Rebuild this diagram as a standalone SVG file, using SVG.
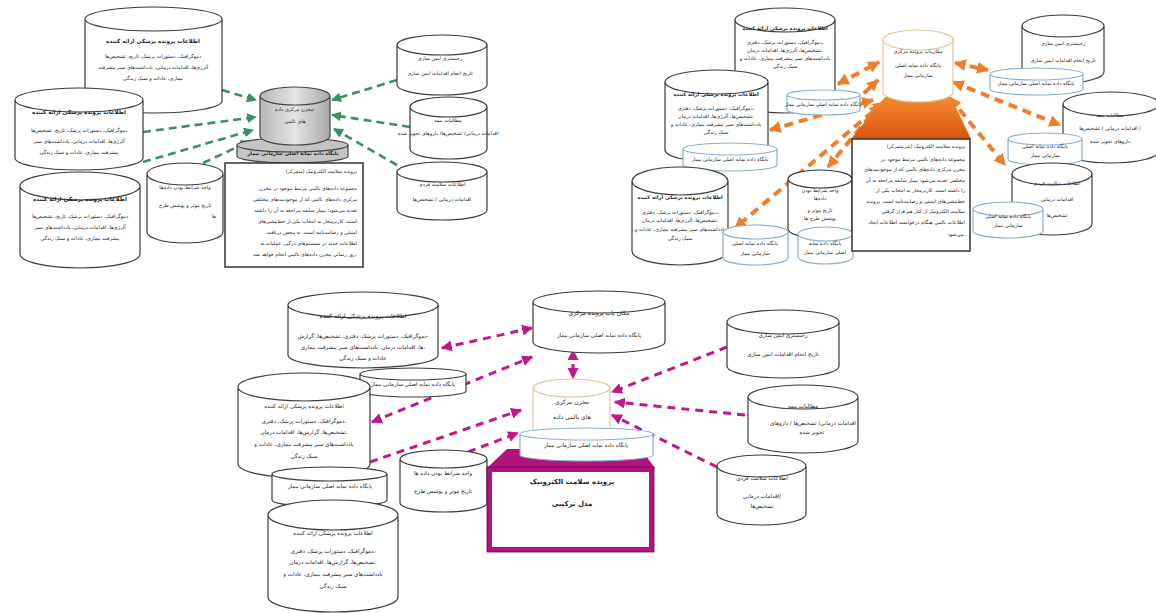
<svg xmlns="http://www.w3.org/2000/svg" width="1156" height="613" viewBox="0 0 1156 613">
<style>
.c{fill:#fff;stroke:#3a3a3a;stroke-width:1.2}
.cb{fill:#fff;stroke:#8aaed0;stroke-width:1.2}
.co{fill:#fff;stroke:#e6c49a;stroke-width:1.2}
.t{font-family:"DejaVu Sans","Noto Sans",sans-serif;fill:#222;text-anchor:middle;font-size:5.5px}
.s5{font-size:5px}
.s6{font-size:6px}
.s7{font-size:7px}
.e{text-anchor:end}
.b{font-weight:bold}
.g{fill:none;stroke:#3b9063;stroke-width:2.6;stroke-dasharray:8 5}
.o{fill:none;stroke:#f07d28;stroke-width:4;stroke-dasharray:9 6}
.m{fill:none;stroke:#c4168a;stroke-width:3;stroke-dasharray:8 6}
</style>
<defs>
<linearGradient id="gr" x1="0" x2="1" y1="0" y2="0"><stop offset="0" stop-color="#b8b8b8"/><stop offset="0.5" stop-color="#e4e4e4"/><stop offset="1" stop-color="#a8a8a8"/></linearGradient>
<linearGradient id="og" x1="0" x2="0" y1="0" y2="1"><stop offset="0" stop-color="#f58a30"/><stop offset="1" stop-color="#d8560e"/></linearGradient>
<marker id="ag" viewBox="0 0 10 10" refX="9" refY="5" markerWidth="10" markerHeight="10" markerUnits="userSpaceOnUse" orient="auto-start-reverse"><path d="M0,0L10,5L0,10z" fill="#3b9063"/></marker>
<marker id="ao" viewBox="0 0 10 10" refX="9" refY="5" markerWidth="12" markerHeight="12" markerUnits="userSpaceOnUse" orient="auto-start-reverse"><path d="M0,0L10,5L0,10z" fill="#f07d28"/></marker>
<marker id="am" viewBox="0 0 10 10" refX="9" refY="5" markerWidth="11" markerHeight="11" markerUnits="userSpaceOnUse" orient="auto-start-reverse"><path d="M0,0L10,5L0,10z" fill="#c4168a"/></marker>
</defs>
<rect width="1156" height="613" fill="#fff"/>

<g id="connectors">
<line class="g" x1="222" y1="90" x2="256" y2="100" marker-end="url(#ag)"/>
<line class="g" x1="143" y1="132" x2="256" y2="117" marker-end="url(#ag)"/>
<line class="g" x1="143" y1="162" x2="253" y2="130" marker-end="url(#ag)"/>
<line class="g" x1="203" y1="163" x2="250" y2="141" marker-end="url(#ag)"/>
<line class="g" x1="397" y1="80" x2="332" y2="100" marker-end="url(#ag)"/>
<line class="g" x1="410" y1="127" x2="332" y2="115" marker-end="url(#ag)"/>
<line class="g" x1="397" y1="165" x2="334" y2="129" marker-end="url(#ag)"/>

<line class="o" x1="838" y1="84" x2="879" y2="62" marker-start="url(#ao)" marker-end="url(#ao)"/>
<line class="o" x1="842" y1="114" x2="878" y2="80" marker-start="url(#ao)" marker-end="url(#ao)"/>
<line class="o" x1="770" y1="130" x2="873" y2="100" marker-start="url(#ao)" marker-end="url(#ao)"/>
<line class="o" x1="880" y1="104" x2="828" y2="167" marker-start="url(#ao)" marker-end="url(#ao)"/>
<line class="o" x1="884" y1="102" x2="735" y2="228" marker-start="url(#ao)" marker-end="url(#ao)"/>
<line class="o" x1="955" y1="63" x2="988" y2="70" marker-start="url(#ao)" marker-end="url(#ao)"/>
<line class="o" x1="953" y1="82" x2="1060" y2="125" marker-start="url(#ao)" marker-end="url(#ao)"/>
<line class="o" x1="950" y1="98" x2="1005" y2="165" marker-start="url(#ao)" marker-end="url(#ao)"/>

<line class="m" x1="442" y1="348" x2="532" y2="328" marker-start="url(#am)" marker-end="url(#am)"/>
<line class="m" x1="372" y1="422" x2="532" y2="357" marker-start="url(#am)" marker-end="url(#am)"/>
<line class="m" x1="370" y1="462" x2="521" y2="410" marker-end="url(#am)"/>
<line class="m" x1="468" y1="452" x2="518" y2="433" marker-end="url(#am)"/>
<line class="m" x1="573" y1="350" x2="573" y2="378" marker-start="url(#am)" marker-end="url(#am)"/>
<line class="m" x1="727" y1="347" x2="612" y2="392" marker-end="url(#am)"/>
<line class="m" x1="745" y1="415" x2="615" y2="402" marker-end="url(#am)"/>
<line class="m" x1="717" y1="467" x2="612" y2="415" marker-end="url(#am)"/>
</g>

<!-- TOP LEFT -->
<g id="tl-a">
<path class="c" d="M85,19a68.5,12 0 0 1 137,0v82a68.5,12 0 0 1 -137,0zm137,0a68.5,12 0 0 1 -137,0"/>
<text class="t b" x="153" y="43">اطلاعات پرونده پزشکی ارائه کننده</text>
<text class="t s5" x="153" y="58">دموگرافیک، دستورات پزشک، تاریخ، تشخیص‌ها</text>
<text class="t s5" x="153" y="69">آلرژی‌ها، اقدامات درمانی، یادداشت‌های سیر پیشرفت</text>
<text class="t s5" x="153" y="80">بیماری، عادات و سبک زندگی</text>
</g>
<g id="tl-b">
<path class="c" d="M15,100a64,12 0 0 1 128,0v58a64,12 0 0 1 -128,0zm128,0a64,12 0 0 1 -128,0"/>
<text class="t b" x="79" y="114">اطلاعات پرونده پزشکی ارائه کننده</text>
<text class="t s5" x="79" y="132">دموگرافیک، دستورات پزشک، تاریخ، تشخیص‌ها</text>
<text class="t s5" x="79" y="143">آلرژی‌ها، اقدامات درمانی، یادداشت‌های سیر</text>
<text class="t s5" x="79" y="154">پیشرفت بیماری، عادات و سبک زندگی</text>
</g>
<g id="tl-c">
<path class="c" d="M20,186a60,14 0 0 1 120,0v68a60,14 0 0 1 -120,0zm120,0a60,14 0 0 1 -120,0"/>
<text class="t b" x="80" y="201">اطلاعات پرونده پزشکی ارائه کننده</text>
<text class="t s5" x="80" y="218">دموگرافیک، دستورات پزشک، تاریخ، تشخیص‌ها</text>
<text class="t s5" x="80" y="229">آلرژی‌ها، اقدامات درمانی، یادداشت‌های سیر</text>
<text class="t s5" x="80" y="240">پیشرفت بیماری، عادات و سبک زندگی</text>
</g>
<g id="tl-d">
<path class="c" d="M147,174a38,11 0 0 1 76,0v58a38,11 0 0 1 -76,0zm76,0a38,11 0 0 1 -76,0"/>
<text class="t s5" x="185" y="189">واجد شرایط بودن داده‌ها</text>
<text class="t s5" x="185" y="207">تاریخ موثر و پوشش طرح</text>
<text class="t s5 e" x="216" y="218">ها</text>
</g>
<g id="tl-center">
<path d="M237,145a55.5,7 0 0 1 111,0v11a55.5,7 0 0 1 -111,0zm111,0a55.5,7 0 0 1 -111,0" fill="#c4c4c4" stroke="#444" stroke-width="1.2"/>
<text class="t s5 b" x="293" y="155">پایگاه داده نمایه اصلی سازمانی بیمار</text>
<path d="M260,96a35,9 0 0 1 70,0v40a35,9 0 0 1 -70,0zm70,0a35,9 0 0 1 -70,0" fill="url(#gr)" stroke="#444" stroke-width="1.2"/>
<text class="t s5" x="295" y="111">مخزن مرکزی داده-</text>
<text class="t s5" x="295" y="123">های بالینی</text>
</g>
<g id="tl-box">
<rect x="225" y="163" width="138" height="104" fill="#fff" stroke="#333" stroke-width="1.5"/>
<text class="t s5 e" x="357" y="173">پرونده سلامت الکترونیک (متمرکز)</text>
<text class="t s5 e" x="357" y="190">مجموعه داده‌های بالینی مرتبط موجود در مخزن</text>
<text class="t s5 e" x="357" y="201">مرکزی داده‌های بالینی که از موجودیت‌های مختلفی</text>
<text class="t s5 e" x="357" y="212">تغذیه می‌شود؛ بیمار سابقه مراجعه به آن را داشته</text>
<text class="t s5 e" x="357" y="223">است. کاربرمجاز به انتخاب یکی از خط‌مشی‌های</text>
<text class="t s5 e" x="357" y="234">امنیتی و رضایت‌نامه است. به محض دریافت</text>
<text class="t s5 e" x="357" y="245">اطلاعات جدید در سیستم‌های درگیر، عملیات به</text>
<text class="t s5 e" x="357" y="256">روز رسانی مخزن داده‌های بالینی انجام خواهد شد.</text>
</g>
<g id="tl-e">
<path class="c" d="M397,45a45,10 0 0 1 90,0v40a45,10 0 0 1 -90,0zm90,0a45,10 0 0 1 -90,0"/>
<text class="t s5" x="440" y="60">رجیستری ایمن سازی</text>
<text class="t s5" x="440" y="75">تاریخ انجام اقدامات ایمن سازی</text>
</g>
<g id="tl-f">
<path class="c" d="M410,107a38.5,10 0 0 1 77,0v42a38.5,10 0 0 1 -77,0zm77,0a38.5,10 0 0 1 -77,0"/>
<text class="t s5" x="448" y="122">مطالبات بیمه</text>
<text class="t s5" x="448" y="135">اقدامات درمانی/ تشخیص‌ها/ داروهای تجویز شده</text>
</g>
<g id="tl-g">
<path class="c" d="M397,172a45,10 0 0 1 90,0v38a45,10 0 0 1 -90,0zm90,0a45,10 0 0 1 -90,0"/>
<text class="t s5" x="442" y="186">اطلاعات سلامت فردی</text>
<text class="t s5" x="442" y="201">اقدامات درمانی / تشخیص‌ها</text>
</g>

<!-- TOP RIGHT -->
<g id="tr-a">
<path class="c" d="M735,20a50,12 0 0 1 100,0v81a50,12 0 0 1 -100,0zm100,0a50,12 0 0 1 -100,0"/>
<text class="t s5 b" x="785" y="30">اطلاعات پرونده پزشکی ارائه کننده</text>
<text class="t s5" x="785" y="44">دموگرافیک، دستورات پزشک، دفتری،</text>
<text class="t s5" x="785" y="52">تشخیص‌ها، آلرژی‌ها، اقدامات درمان،</text>
<text class="t s5" x="785" y="60">یادداشت‌های سیر پیشرفت بیماری، عادات و</text>
<text class="t s5" x="785" y="68">سبک زندگی</text>
</g>
<g id="tr-a-db">
<path class="cb" d="M787,95a36.5,5 0 0 1 73,0v15a36.5,5 0 0 1 -73,0zm73,0a36.5,5 0 0 1 -73,0"/>
<text class="t s5" x="823" y="106">پایگاه داده نمایه اصلی سازمانی بیمار</text>
</g>
<g id="tr-b">
<path class="c" d="M665,82a51.5,12 0 0 1 103,0v68a51.5,12 0 0 1 -103,0zm103,0a51.5,12 0 0 1 -103,0"/>
<text class="t s5 b" x="716" y="96">اطلاعات پرونده پزشکی ارائه کننده</text>
<text class="t s5" x="716" y="110">دموگرافیک، دستورات پزشک، دفتری،</text>
<text class="t s5" x="716" y="118">تشخیص‌ها، آلرژی‌ها، اقدامات درمان،</text>
<text class="t s5" x="716" y="126">یادداشت‌های سیر پیشرفت بیماری، عادات و</text>
<text class="t s5" x="716" y="134">سبک زندگی</text>
</g>
<g id="tr-b-db">
<path class="cb" d="M683,149a47,6 0 0 1 94,0v16a47,6 0 0 1 -94,0zm94,0a47,6 0 0 1 -94,0"/>
<text class="t s5" x="730" y="161">پایگاه داده نمایه اصلی سازمانی بیمار</text>
</g>
<g id="tr-c">
<path class="c" d="M632,181a48,14 0 0 1 96,0v70a48,14 0 0 1 -96,0zm96,0a48,14 0 0 1 -96,0"/>
<text class="t s5 b" x="680" y="199">اطلاعات پرونده پزشکی ارائه کننده</text>
<text class="t s5" x="680" y="214">دموگرافیک، دستورات پزشک، دفتری،</text>
<text class="t s5" x="680" y="222">تشخیص‌ها، آلرژی‌ها، اقدامات درمان،</text>
<text class="t s5" x="680" y="231">یادداشت‌های سیر پیشرفت بیماری، عادات و</text>
<text class="t s5" x="680" y="240">سبک زندگی</text>
</g>
<g id="tr-d">
<path class="c" d="M788,179a32,9 0 0 1 64,0v50a32,9 0 0 1 -64,0zm64,0a32,9 0 0 1 -64,0"/>
<text class="t s5" x="820" y="192">واجد شرایط بودن</text>
<text class="t s5" x="820" y="200">داده‌ها</text>
<text class="t s5" x="820" y="212">تاریخ موثر و</text>
<text class="t s5" x="820" y="220">پوشش طرح ها</text>
</g>
<g id="tr-c-db">
<path class="cb" d="M723,232a32.5,7 0 0 1 65,0v26a32.5,7 0 0 1 -65,0zm65,0a32.5,7 0 0 1 -65,0"/>
<text class="t s5" x="755" y="245">پایگاه داده نمایه اصلی</text>
<text class="t s5" x="755" y="255">سازمانی بیمار</text>
</g>
<g id="tr-d-db">
<path class="cb" d="M798,234a27.5,7 0 0 1 55,0v23a27.5,7 0 0 1 -55,0zm55,0a27.5,7 0 0 1 -55,0"/>
<text class="t s5" x="825" y="245">پایگاه داده نمایه</text>
<text class="t s5" x="825" y="254">اصلی سازمانی بیمار</text>
</g>
<g id="tr-center">
<polygon points="885,97 951,97 971,139 851,139" fill="url(#og)"/>
<path class="co" d="M883,40a35,10 0 0 1 70,0v52a35,10 0 0 1 -70,0zm70,0a35,10 0 0 1 -70,0"/>
<text class="t s5" x="918" y="53">مکان‌یاب پرونده مرکزی</text>
<text class="t s5" x="918" y="67">پایگاه داده نمایه اصلی</text>
<text class="t s5" x="918" y="77">سازمانی بیمار</text>
</g>
<g id="tr-box">
<rect x="852" y="139" width="118" height="112" fill="#fff" stroke="#333" stroke-width="1.5"/>
<text class="t s5 e" x="965" y="148">پرونده سلامت الکترونیک (غیرمتمرکز)</text>
<text class="t s5 e" x="965" y="161">مجموعه داده‌های بالینی مرتبط موجود در</text>
<text class="t s5 e" x="965" y="171">مخزن مرکزی داده‌های بالینی که از موجودیت‌های</text>
<text class="t s5 e" x="965" y="182">مختلفی تغذیه می‌شود بیمار سابقه مراجعه به آن</text>
<text class="t s5 e" x="965" y="192">را داشته است. کاربرمجاز به انتخاب یکی از</text>
<text class="t s5 e" x="965" y="203">خط‌مشی‌های امنیتی و رضایت‌نامه است. پرونده</text>
<text class="t s5 e" x="965" y="213">سلامت الکترونیک از کنار هم قرار گرفتن</text>
<text class="t s5 e" x="965" y="224">اطلاعات بالینی هنگام درخواست اطلاعات ایجاد</text>
<text class="t s5 e" x="965" y="236">می‌شود.</text>
</g>
<g id="tr-r1">
<path class="c" d="M1022,26a41,11 0 0 1 82,0v46a41,11 0 0 1 -82,0zm82,0a41,11 0 0 1 -82,0"/>
<text class="t s5" x="1063" y="45">رجیستری ایمن سازی</text>
<text class="t s5" x="1063" y="62">تاریخ انجام اقدامات ایمن سازی</text>
</g>
<g id="tr-r1-db">
<path class="cb" d="M990,74a46.5,6 0 0 1 93,0v15a46.5,6 0 0 1 -93,0zm93,0a46.5,6 0 0 1 -93,0"/>
<text class="t s5" x="1036" y="85">پایگاه داده نمایه اصلی سازمانی بیمار</text>
</g>
<g id="tr-r2">
<path class="c" d="M1063,104a48,12 0 0 1 96,0v47a48,12 0 0 1 -96,0zm96,0a48,12 0 0 1 -96,0"/>
<text class="t s5" x="1110" y="117">مطالبات بیمه</text>
<text class="t s5" x="1110" y="130">اقدامات درمانی / تشخیص‌ها /</text>
<text class="t s5" x="1110" y="143">داروهای تجویز شده</text>
</g>
<g id="tr-r2-db">
<path class="cb" d="M1008,139a37,6 0 0 1 74,0v20a37,6 0 0 1 -74,0zm74,0a37,6 0 0 1 -74,0"/>
<text class="t s5" x="1045" y="148">پایگاه داده نمایه اصلی</text>
<text class="t s5" x="1045" y="157">سازمانی بیمار</text>
</g>
<g id="tr-r3">
<path class="c" d="M1012,174a40,11 0 0 1 80,0v50a40,11 0 0 1 -80,0zm80,0a40,11 0 0 1 -80,0"/>
<text class="t s5" x="1057" y="185">اطلاعات سلامت فردی</text>
<text class="t s5" x="1057" y="201">اقدامات درمانی</text>
<text class="t s5" x="1057" y="217">تشخیص‌ها</text>
</g>
<g id="tr-r3-db">
<path class="cb" d="M973,209a35,7 0 0 1 70,0v22a35,7 0 0 1 -70,0zm70,0a35,7 0 0 1 -70,0"/>
<text class="t s5" x="1008" y="218">پایگاه داده نمایه اصلی</text>
<text class="t s5" x="1008" y="227">سازمانی بیمار</text>
</g>

<!-- BOTTOM -->
<g id="b-a">
<path class="c" d="M288,305a75,13 0 0 1 150,0v50a75,13 0 0 1 -150,0zm150,0a75,13 0 0 1 -150,0"/>
<text class="t s6" x="363" y="318">اطلاعات پرونده پزشکی ارائه کننده</text>
<text class="t" x="363" y="338">دموگرافیک، دستورات پزشک، دفتری، تشخیص‌ها، گزارش-</text>
<text class="t" x="363" y="349">ها، اقدامات درمان، یادداشت‌های سیر پیشرفت بیماری،</text>
<text class="t" x="363" y="360">عادات و سبک زندگی</text>
</g>
<g id="b-a-db">
<path class="c" d="M360,374a53,6 0 0 1 106,0v17a53,6 0 0 1 -106,0zm106,0a53,6 0 0 1 -106,0"/>
<text class="t" x="413" y="386">پایگاه داده نمایه اصلی سازمانی بیمار</text>
</g>
<g id="b-b">
<path class="c" d="M238,387a66,14 0 0 1 132,0v77a66,14 0 0 1 -132,0zm132,0a66,14 0 0 1 -132,0"/>
<text class="t" x="304" y="408">اطلاعات پرونده پزشکی ارائه کننده</text>
<text class="t" x="304" y="423">دموگرافیک، دستورات پزشک، دفتری،</text>
<text class="t" x="304" y="434">تشخیص‌ها، گزارش‌ها، اقدامات درمان،</text>
<text class="t" x="304" y="446">یادداشت‌های سیر پیشرفت بیماری، عادات و</text>
<text class="t" x="304" y="458">سبک زندگی</text>
</g>
<g id="b-b-db">
<path class="c" d="M272,474a57.5,7 0 0 1 115,0v26a57.5,7 0 0 1 -115,0zm115,0a57.5,7 0 0 1 -115,0"/>
<text class="t" x="330" y="488">پایگاه داده نمایه اصلی سازمانی بیمار</text>
</g>
<g id="b-c">
<path class="c" d="M268,515a65,15 0 0 1 130,0v82a65,15 0 0 1 -130,0zm130,0a65,15 0 0 1 -130,0"/>
<text class="t" x="333" y="535">اطلاعات پرونده پزشکی ارائه کننده</text>
<text class="t" x="333" y="553">دموگرافیک، دستورات پزشک، دفتری،</text>
<text class="t" x="333" y="564">تشخیص‌ها، گزارش‌ها، اقدامات درمان،</text>
<text class="t" x="333" y="576">یادداشت‌های سیر پیشرفت بیماری، عادات و</text>
<text class="t" x="333" y="588">سبک زندگی</text>
</g>
<g id="b-d">
<path class="c" d="M400,459a43.5,9 0 0 1 87,0v44a43.5,9 0 0 1 -87,0zm87,0a43.5,9 0 0 1 -87,0"/>
<text class="t" x="443" y="475">واجد شرایط بودن داده ها</text>
<text class="t" x="443" y="493">تاریخ موثر و پوشش طرح</text>
</g>
<g id="b-top">
<path class="c" d="M533,302a66,11 0 0 1 132,0v40a66,11 0 0 1 -132,0zm132,0a66,11 0 0 1 -132,0"/>
<text class="t s6" x="599" y="315">مکان یاب پرونده مرکزی</text>
<text class="t" x="599" y="337">پایگاه داده نمایه اصلی سازمانی بیمار</text>
</g>
<g id="b-ehr">
<polygon points="507,449 641,449 655,468 487,468" fill="#b5117f"/>
<rect x="489.5" y="469.5" width="162" height="80" fill="#fff" stroke="#b5117f" stroke-width="5"/>
<rect x="487" y="467" width="167" height="85" fill="none" stroke="#5a0a40" stroke-width="0.8"/>
<text class="t s7 b" x="572" y="484">پرونده سلامت الکترونیک</text>
<text class="t s7 b" x="572" y="506">مدل ترکیبی</text>
</g>
<g id="b-center">
<path class="co" d="M533,388a38.5,9 0 0 1 77,0v40a38.5,9 0 0 1 -77,0zm77,0a38.5,9 0 0 1 -77,0"/>
<text class="t s6" x="572" y="404">مخزن مرکزی</text>
<text class="t s6" x="572" y="419">های بالینی داده</text>
</g>
<g id="b-center-db">
<path class="cb" d="M520,434a66.5,6 0 0 1 133,0v21a66.5,6 0 0 1 -133,0zm133,0a66.5,6 0 0 1 -133,0"/>
<text class="t" x="586" y="447">پایگاه داده نمایه اصلی سازمانی بیمار</text>
</g>
<g id="b-r1">
<path class="c" d="M727,322a56,12 0 0 1 112,0v44a56,12 0 0 1 -112,0zm112,0a56,12 0 0 1 -112,0"/>
<text class="t" x="783" y="337">رجیستری ایمن سازی</text>
<text class="t" x="783" y="356">تاریخ انجام اقدامات ایمن سازی</text>
</g>
<g id="b-r2">
<path class="c" d="M748,397a55,12 0 0 1 110,0v44a55,12 0 0 1 -110,0zm110,0a55,12 0 0 1 -110,0"/>
<text class="t" x="803" y="408">مطالبات بیمه</text>
<text class="t e" x="856" y="425">اقدامات درمانی/ تشخیص‌ها / داروهای</text>
<text class="t e" x="824" y="434">تجویز شده</text>
</g>
<g id="b-r3">
<path class="c" d="M717,466a44.5,11 0 0 1 89,0v48a44.5,11 0 0 1 -89,0zm89,0a44.5,11 0 0 1 -89,0"/>
<text class="t" x="762" y="480">اطلاعات سلامت فردی</text>
<text class="t" x="762" y="498">اقدامات درمانی/</text>
<text class="t" x="762" y="508">تشخیص‌ها</text>
</g>
</svg>
